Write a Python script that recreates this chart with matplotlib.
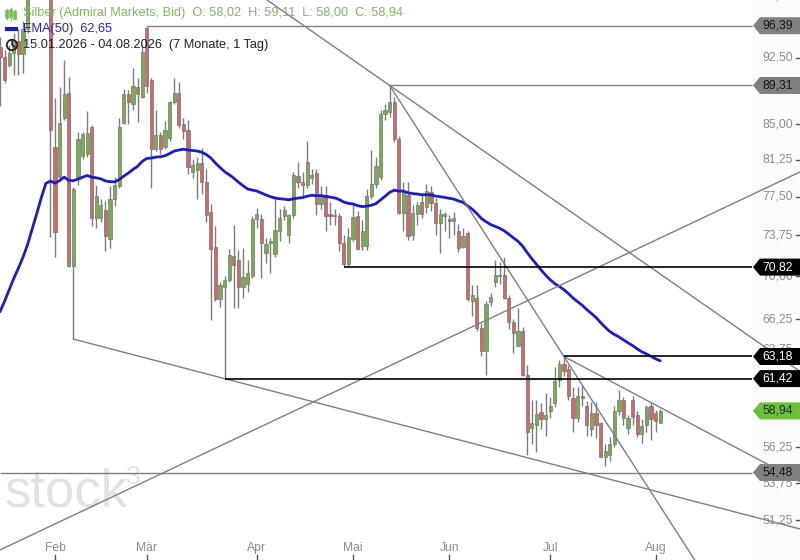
import numpy as np
import matplotlib.pyplot as plt
from matplotlib.patches import Polygon, Circle
from matplotlib.transforms import IdentityTransform, blended_transform_factory

plt.rcParams['font.family'] = ['Liberation Sans', 'DejaVu Sans']

# daily candles, 15.01.2026 - 04.08.2026
opens = [93.8, 92.6, 91.7, 93.1, 94.5, 93.0, 96.0, 103.0, 110.0, 112.0,
         116.0, 114.0, 82.6, 79.5, 85.7, 88.5, 70.9, 79.3, 81.6, 81.8,
         84.7, 75.4, 75.4, 76.2, 73.4, 77.3, 78.5, 85.1, 88.3, 87.2,
         89.1, 88.0, 96.1, 89.9, 82.4, 83.8, 82.6, 83.5, 87.4, 88.5,
         85.0, 84.4, 80.0, 80.2, 80.9, 79.0, 76.0, 72.7, 68.0, 69.0,
         69.7, 71.8, 71.5, 69.0, 69.3, 70.0, 75.3, 75.3, 72.1, 73.0,
         72.0, 74.2, 75.6, 73.8, 75.7, 79.6, 79.0, 78.6, 79.4, 79.9,
         76.8, 77.7, 75.8, 75.7, 75.6, 73.0, 71.1, 73.4, 75.6, 72.8,
         72.8, 77.6, 78.8, 79.5, 86.1, 86.3, 87.4, 83.4, 75.9, 77.7,
         73.8, 75.8, 77.0, 76.5, 77.9, 76.9, 74.9, 75.6, 75.3, 75.1,
         74.2, 72.7, 74.0, 67.8, 68.1, 65.5, 63.6, 67.7, 69.5, 70.0,
         70.1, 68.1, 66.0, 64.0, 65.3, 61.7, 57.7, 57.9, 58.85, 58.3,
         58.9, 59.5, 61.3, 62.6, 62.2, 59.9, 58.4, 60.1, 59.3, 57.6,
         58.8, 58.0, 55.6, 55.7, 56.5, 58.9, 59.8, 57.7, 59.8, 58.6,
         57.2, 57.9, 59.3, 58.8, 58.02]
highs = [95.0, 93.4, 94.0, 95.5, 96.0, 97.0, 102.5, 117.5, 113.0, 117.0,
         121.5, 118.0, 87.9, 89.1, 92.3, 90.3, 78.4, 84.2, 84.2, 86.4,
         84.9, 78.6, 77.3, 77.1, 78.5, 79.5, 85.7, 88.9, 88.8, 91.3,
         90.2, 94.0, 96.39, 90.2, 86.6, 84.2, 85.3, 87.6, 90.2, 89.7,
         85.7, 85.5, 81.3, 81.5, 82.5, 80.3, 76.8, 74.6, 69.5, 70.0,
         72.5, 74.7, 72.4, 72.6, 71.5, 75.6, 76.4, 75.8, 73.5, 73.5,
         77.4, 76.3, 76.6, 75.8, 80.0, 81.0, 80.0, 83.2, 80.3, 80.3,
         78.5, 78.5, 77.0, 76.3, 75.9, 73.8, 74.4, 76.9, 76.1, 75.2,
         78.2, 82.2, 81.5, 86.6, 87.2, 89.31, 88.0, 83.7, 79.0, 79.0,
         76.7, 77.0, 77.7, 78.8, 78.5, 77.4, 76.3, 76.0, 75.7, 76.0,
         74.8, 74.4, 74.2, 69.2, 69.2, 65.9, 67.8, 68.5, 71.5, 71.3,
         71.7, 68.3, 66.3, 67.2, 65.6, 62.5, 59.8, 59.8, 59.5, 60.3,
         60.0, 62.3, 62.9, 63.18, 62.5, 60.8, 60.8, 60.9, 59.7, 59.6,
         59.6, 58.1, 56.5, 57.0, 59.3, 60.5, 60.0, 58.6, 60.1, 58.9,
         58.3, 59.4, 59.5, 59.0, 59.11]
lows = [87.0, 89.6, 91.4, 90.5, 90.5, 90.8, 95.5, 102.5, 104.0, 110.5,
        106.0, 73.6, 71.7, 79.2, 85.5, 70.8, 64.6, 78.6, 81.3, 81.5,
        74.6, 74.4, 75.0, 72.3, 72.6, 76.6, 78.3, 85.0, 85.0, 86.6,
        85.2, 87.9, 88.5, 78.3, 82.1, 81.8, 82.3, 83.2, 87.2, 84.6,
        83.4, 79.8, 79.4, 77.3, 77.8, 75.0, 66.2, 67.8, 67.3, 61.42,
        69.5, 67.2, 67.2, 68.1, 68.6, 69.8, 74.4, 69.8, 71.2, 70.3,
        71.7, 73.2, 75.2, 73.0, 75.4, 78.3, 77.6, 78.3, 78.8, 75.7,
        76.3, 74.2, 74.7, 74.7, 72.3, 70.82, 70.9, 73.2, 72.4, 72.4,
        72.4, 77.3, 78.3, 79.2, 85.5, 85.8, 83.1, 75.8, 74.2, 73.3,
        73.3, 74.7, 75.4, 75.9, 76.1, 73.8, 72.1, 74.2, 73.5, 73.8,
        72.2, 72.6, 67.8, 66.5, 65.3, 63.2, 61.7, 67.4, 69.0, 69.3,
        68.0, 65.4, 63.5, 64.0, 61.6, 55.7, 56.5, 55.9, 57.6, 57.1,
        58.4, 59.2, 60.8, 61.6, 59.8, 57.4, 58.1, 59.3, 57.1, 57.1,
        56.9, 55.5, 54.9, 55.3, 56.3, 58.6, 57.9, 57.2, 57.9, 57.0,
        56.6, 57.4, 56.8, 57.4, 58.00]
closes = [92.6, 89.9, 93.1, 94.5, 93.0, 96.0, 101.5, 110.0, 112.0, 116.0,
          114.0, 84.4, 74.1, 85.1, 88.3, 70.9, 78.2, 83.4, 83.9, 84.1,
          75.4, 77.6, 76.7, 73.7, 77.3, 78.6, 84.7, 88.3, 87.4, 89.3,
          88.3, 93.2, 89.3, 82.4, 83.8, 82.4, 84.4, 87.4, 88.5, 84.9,
          84.3, 80.5, 80.7, 80.9, 79.0, 75.7, 72.5, 68.0, 69.2, 69.7,
          71.9, 71.0, 69.0, 69.9, 70.3, 75.3, 75.8, 73.0, 72.9, 73.2,
          74.3, 75.4, 76.2, 75.7, 79.7, 79.0, 78.6, 81.0, 79.7, 76.8,
          77.7, 75.6, 75.6, 75.6, 73.0, 71.1, 73.6, 75.5, 72.5, 74.2,
          77.6, 78.8, 80.6, 86.1, 86.5, 87.4, 83.4, 75.9, 78.0, 73.7,
          75.9, 76.7, 75.8, 78.0, 76.9, 74.9, 75.8, 75.8, 75.1, 75.4,
          72.6, 73.7, 68.0, 68.3, 65.5, 63.6, 67.6, 68.2, 70.1, 70.1,
          68.1, 66.0, 65.1, 65.3, 61.7, 57.4, 58.0, 58.7, 58.3, 58.6,
          59.3, 61.2, 62.6, 62.0, 60.1, 58.4, 60.1, 59.9, 57.9, 58.8,
          57.9, 55.6, 56.0, 56.5, 58.9, 59.8, 58.4, 58.4, 58.5, 57.2,
          57.8, 59.2, 58.3, 58.2, 58.94]
ema_start = 66.9   # EMA(50) value on the first candle
ema_last = 62.65   # value printed in the legend

month_labels = ['Feb', 'Mär', 'Apr', 'Mai', 'Jun', 'Jul', 'Aug']
month_pos = [12, 32, 56, 77, 98, 120, 143]
ytick_vals = [51.25, 53.75, 56.25, 63.75, 66.25, 70.0, 73.75,
              77.5, 81.25, 85.0, 92.5, 100.0]

# horizontal levels: (start candle, price)
grey_levels = [(32, 96.39), (85, 89.31), (0, 54.48)]
black_levels = [(75, 70.82), (123, 63.18), (49, 61.42)]
last_price = 58.94

# trend lines through two points; full lines or rays starting at the first point
full_lines = [((85, 89.31), (144, 70.2)), ((0, 49.35), (144, 73.5))]
rays = [((85, 89.31), (123, 63.18)), ((123, 63.18), (144, 59.2)),
        ((16, 64.6), (49, 61.42))]

W, H = 800, 560
fig = plt.figure(figsize=(8, 5.6), dpi=100)
ax = fig.add_axes([0, 0, 1, 1])
ax.set_yscale('log')
XMAX = 174.5
ax.set_xlim(0, XMAX)
ax.set_ylim(48.72, 99.61)
ax.axis('off')

ax.axvspan(0.94 * XMAX, XMAX, color='#fbfbfb', zorder=0, lw=0)

# watermark
ax.text(0.006, 0.095, 'stock', transform=ax.transAxes, fontsize=38,
        color='#e2e2e2', ha='left', va='baseline', zorder=0.5)
ax.text(0.158, 0.135, '3', transform=ax.transAxes, fontsize=19,
        color='#e2e2e2', ha='left', va='baseline', zorder=0.5)

# candles
x = np.arange(len(closes))
o = np.array(opens)
c = np.array(closes)
up = c >= o
ax.vlines(x, lows, highs, color='#7c7c7c', lw=1, zorder=2)
ax.bar(x[up], (c - o)[up], bottom=o[up], width=0.7, color='#7aaa58',
       edgecolor='#6f7f66', lw=0.5, zorder=3)
ax.bar(x[~up], (o - c)[~up], bottom=c[~up], width=0.7, color='#c66e6e',
       edgecolor='#8a6a6a', lw=0.5, zorder=3)

# EMA(50)
alpha = 2 / 51
ema = [ema_start]
for v in closes[1:]:
    ema.append(ema[-1] + alpha * (v - ema[-1]))
ax.plot(x, ema, color='#1c1cc9', lw=2.0, zorder=4, solid_capstyle='round')

# trend lines
for p1, p2 in full_lines:
    ax.axline(p1, p2, color='#7f7f7f', lw=1.0, zorder=5)
for (x1, y1), (x2, y2) in rays:
    k = (np.log(y2) - np.log(y1)) / (x2 - x1)
    y_end = np.exp(np.log(y1) + k * (XMAX - x1))
    ax.plot([x1, XMAX], [y1, y_end], color='#7f7f7f', lw=1.0, zorder=5)

tag_x = 0.94 * XMAX
for x0, v in grey_levels:
    ax.hlines(v, x0, tag_x, color='#7f7f7f', lw=1.0, zorder=5)
for x0, v in black_levels:
    ax.hlines(v, x0, tag_x, color='black', lw=1.2, zorder=5)

# y axis labels and ticks
ytr = blended_transform_factory(ax.transAxes, ax.transData)
for v in ytick_vals:
    ax.text(0.991, v, f'{v:.2f}'.replace('.', ','), transform=ytr,
            ha='right', va='center', fontsize=8.7, color='#8c8c8c', zorder=1)
    ax.plot([0.995, 1.0], [v, v], transform=ytr, color='#555555', lw=1, zorder=1)

# x axis labels and ticks
xtr = blended_transform_factory(ax.transData, ax.transAxes)
for pos, lab in zip(month_pos, month_labels):
    ax.text(pos, 12 / H, lab, transform=xtr, ha='center', va='center',
            fontsize=8.7, color='#8c8c8c')
    ax.plot([pos, pos], [0, 5 / H], transform=xtr, color='#555555', lw=1)


def price_tag(v, face, txt):
    py = ax.transData.transform((0, v))[1]
    verts = [(753, py), (760, py + 8.5), (W, py + 8.5), (W, py - 8.5), (760, py - 8.5)]
    fig.add_artist(Polygon(verts, closed=True, transform=IdentityTransform(),
                           facecolor=face, edgecolor='none', zorder=10))
    fig.text(778 / W, py / H, f'{v:.2f}'.replace('.', ','), ha='center',
             va='center', fontsize=8.7, color=txt, zorder=11)


for _, v in grey_levels:
    price_tag(v, '#808080', '#151515')
for _, v in black_levels:
    price_tag(v, '#000000', '#ffffff')
price_tag(last_price, '#6cbf3c', '#16300a')

# legend block
green_txt = '#78bd55'
icon = [(7, 9, 19, 12, 17), (11, 8, 20, 11, 16), (15, 10, 19, 13, 18)]
for ix, top, bot, b0, b1 in icon:
    fig.add_artist(plt.Line2D([ix, ix], [H - top, H - bot], transform=IdentityTransform(),
                              color=green_txt, lw=1))
    fig.add_artist(plt.Line2D([ix, ix], [H - b0, H - b1], transform=IdentityTransform(),
                              color=green_txt, lw=2.6))
fig.text(23 / W, 1 - 13 / H,
         'Silber (Admiral Markets, Bid)  O: 58,02  H: 59,11  L: 58,00  C: 58,94',
         ha='left', va='center', fontsize=9.2, color=green_txt)
fig.add_artist(plt.Line2D([7, 16], [H - 29, H - 29], transform=IdentityTransform(),
                          color='#1c1cc9', lw=3))
fig.text(23 / W, 1 - 29 / H, f'EMA(50)  {ema_last:.2f}'.replace('.', ','),
         ha='left', va='center', fontsize=9.2, color='#2323c8')
fig.add_artist(Circle((12, H - 45), 5.2, transform=IdentityTransform(),
                      fill=False, edgecolor='#222222', lw=1.3))
fig.add_artist(plt.Line2D([12, 12, 15], [H - 41, H - 45, H - 47], transform=IdentityTransform(),
                          color='#222222', lw=1.1))
fig.text(23 / W, 1 - 45 / H, '15.01.2026 - 04.08.2026  (7 Monate, 1 Tag)',
         ha='left', va='center', fontsize=9.2, color='#222222')

fig.savefig('out.png', dpi=100)
